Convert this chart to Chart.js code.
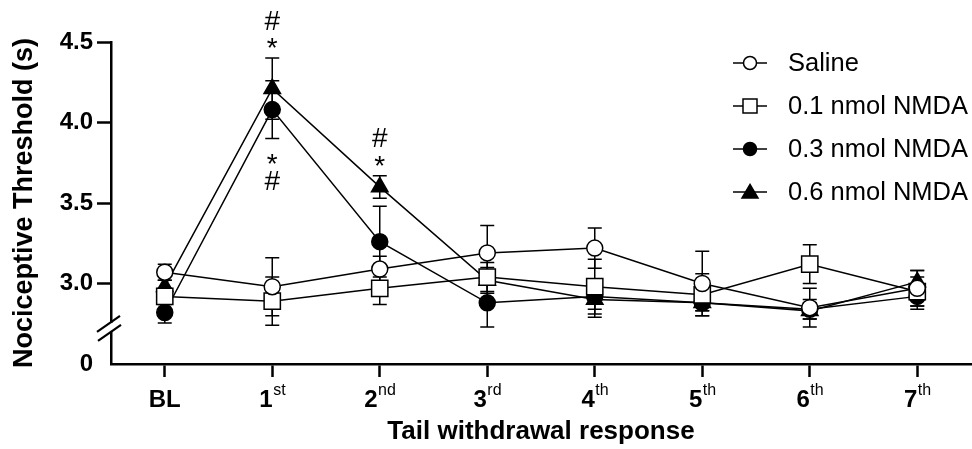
<!DOCTYPE html>
<html><head><meta charset="utf-8">
<script src="https://cdn.jsdelivr.net/npm/chart.js@4.4.1/dist/chart.umd.min.js"></script>
<style>html,body{margin:0;padding:0;background:#fff;}#wrap{width:972px;height:449px;}</style>
</head><body><div id="wrap"><canvas id="c" width="972" height="449"></canvas></div>
<script>
// ---- data ----
const categories = ['BL','1st','2nd','3rd','4th','5th','6th','7th'];
const tickBase = ['BL','1','2','3','4','5','6','7'];
const tickSup = ['','st','nd','rd','th','th','th','th'];
const seriesNames = ['Saline','0.1 nmol NMDA','0.3 nmol NMDA','0.6 nmol NMDA'];
const saline    = [3.07, 2.98, 3.09, 3.19, 3.22, 3.00, 2.85, 2.97];
const salineSem = [0.05, 0.18, 0.08, 0.17, 0.125, 0.20, 0.12, 0.11];
const nmda01    = [2.92, 2.89, 2.97, 3.04, 2.98, 2.93, 3.12, 2.95];
const nmda01Sem = [0.05, 0.15, 0.10, 0.09, 0.17, 0.13, 0.12, 0.09];
const nmda03    = [2.82, 4.08, 3.26, 2.88, 2.92, 2.88, 2.84, 2.92];
const nmda03Sem = [0.065, 0.18, 0.22, 0.15, 0.08, 0.05, 0.06, 0.08];
const nmda06    = [2.98, 4.21, 3.60, 3.02, 2.90, 2.88, 2.83, 3.01];
const nmda06Sem = [0.04, 0.19, 0.07, 0.08, 0.11, 0.05, 0.05, 0.07];
const yTicks = [2.5, 3.0, 3.5, 4.0, 4.5];          // 2.5 sits at the broken-axis origin
const yTickLabels = ['0', '3.0', '3.5', '4.0', '4.5'];
const axisBreakValue = 2.73;
const significance = [
  {index: 1, series: 3, side: 'above', text: ['*', '#']},
  {index: 1, series: 2, side: 'below', text: ['*', '#']},
  {index: 2, series: 3, side: 'above', text: ['*', '#']}
];
const semSets = [salineSem, nmda01Sem, nmda03Sem, nmda06Sem];

const FONT = '"Liberation Sans", Arial, Helvetica, sans-serif';

const styles = [
  {pointStyle: 'circle', r: 8, fill: '#ffffff'},
  {pointStyle: 'rect', r: 11.5, fill: '#ffffff'},
  {pointStyle: 'circle', r: 8, fill: '#000000'},
  {pointStyle: 'triangle', r: 9.5, fill: '#000000'}
];
const values = [saline, nmda01, nmda03, nmda06];

const datasets = values.map((v, i) => ({
  label: seriesNames[i],
  data: v,
  borderColor: '#000',
  borderWidth: 1.5,
  backgroundColor: styles[i].fill,
  pointStyle: styles[i].pointStyle,
  pointRadius: styles[i].r,
  pointBorderWidth: 1.5,
  pointBackgroundColor: styles[i].fill,
  pointBorderColor: '#000',
  tension: 0,
  fill: false,
  clip: false
}));

const errorBars = {
  id: 'errorBars',
  beforeDatasetsDraw(chart) {
    const ctx = chart.ctx, x = chart.scales.x, y = chart.scales.y;
    ctx.save();
    ctx.strokeStyle = '#000';
    ctx.lineWidth = 1.5;
    for (let s = values.length - 1; s >= 0; s--) {
      values[s].forEach((v, i) => {
        const px = x.getPixelForValue(i);
        const top = y.getPixelForValue(v + semSets[s][i]);
        const bot = y.getPixelForValue(v - semSets[s][i]);
        ctx.beginPath();
        ctx.moveTo(px, top); ctx.lineTo(px, bot);
        ctx.moveTo(px - 7, top); ctx.lineTo(px + 7, top);
        ctx.moveTo(px - 7, bot); ctx.lineTo(px + 7, bot);
        ctx.stroke();
      });
    }
    ctx.restore();
  }
};

function drawCentered(ctx, txt, cx, cy) {
  ctx.textBaseline = 'alphabetic';
  ctx.textAlign = 'center';
  const m = ctx.measureText(txt);
  ctx.fillText(txt, cx, cy + (m.actualBoundingBoxAscent - m.actualBoundingBoxDescent) / 2);
}

const decorations = {
  id: 'decorations',
  afterDraw(chart) {
    const ctx = chart.ctx, x = chart.scales.x, y = chart.scales.y;
    ctx.save();
    // axis break
    const by = y.getPixelForValue(axisBreakValue);
    const ax = y.right;
    ctx.fillStyle = '#fff';
    ctx.fillRect(ax - 3, by - 4, 6, 8);
    ctx.strokeStyle = '#000';
    ctx.lineWidth = 2.2;
    ctx.beginPath();
    ctx.moveTo(ax - 14, by + 5); ctx.lineTo(ax + 9, by - 11);
    ctx.moveTo(ax - 13, by + 14); ctx.lineTo(ax + 10, by - 2);
    ctx.stroke();

    // x tick labels with superscripts
    ctx.fillStyle = '#000';
    ctx.textAlign = 'left';
    ctx.textBaseline = 'alphabetic';
    const baseFont = 'bold 24px ' + FONT, supFont = '16px ' + FONT;
    tickBase.forEach((b, i) => {
      const px = x.getPixelForValue(i);
      ctx.font = baseFont; const wb = ctx.measureText(b).width;
      ctx.font = supFont; const ws = ctx.measureText(tickSup[i]).width;
      const start = px - (wb + ws) / 2;
      const baseY = y.bottom + 43;
      ctx.font = baseFont; ctx.fillText(b, start, baseY);
      ctx.font = supFont; ctx.fillText(tickSup[i], start + wb + 0.5, baseY - 12);
    });

    // significance marks
    ctx.font = '28px ' + FONT;
    significance.forEach(m => {
      const px = x.getPixelForValue(m.index);
      const v = values[m.series][m.index], e = semSets[m.series][m.index];
      if (m.side === 'above') {
        const t = y.getPixelForValue(v + e);
        drawCentered(ctx, m.text[0], px, t - 15);
        drawCentered(ctx, m.text[1], px, t - 38);
      } else {
        const b = y.getPixelForValue(v - e);
        drawCentered(ctx, m.text[0], px, b + 20);
        drawCentered(ctx, m.text[1], px, b + 42);
      }
    });

    // legend
    const lx = 750, ly0 = 63, dy = 43;
    seriesNames.forEach((name, i) => {
      const yy = ly0 + i * dy;
      ctx.strokeStyle = '#000';
      ctx.lineWidth = 1.5;
      ctx.beginPath(); ctx.moveTo(lx - 17, yy); ctx.lineTo(lx + 17, yy); ctx.stroke();
      ctx.fillStyle = styles[i].fill;
      ctx.beginPath();
      if (styles[i].pointStyle === 'circle') {
        ctx.arc(lx, yy, 6.5, 0, Math.PI * 2);
      } else if (styles[i].pointStyle === 'rect') {
        ctx.rect(lx - 7, yy - 7, 14, 14);
      } else {
        ctx.moveTo(lx, yy - 7.5); ctx.lineTo(lx + 8, yy + 6); ctx.lineTo(lx - 8, yy + 6); ctx.closePath();
      }
      ctx.fill(); ctx.stroke();
      ctx.fillStyle = '#000';
      ctx.font = '25.5px ' + FONT;
      ctx.textAlign = 'left';
      ctx.textBaseline = 'middle';
      ctx.fillText(name, 788, yy + 1);
    });
    ctx.restore();
  }
};

new Chart(document.getElementById('c'), {
  type: 'line',
  data: {labels: categories, datasets},
  plugins: [errorBars, decorations],
  options: {
    responsive: false,
    animation: false,
    devicePixelRatio: 1,
    layout: {autoPadding: false, padding: {top: 42, right: 1, left: 0, bottom: 0}},
    plugins: {legend: {display: false}, tooltip: {enabled: false}},
    scales: {
      x: {
        type: 'category',
        offset: true,
        grid: {display: true, drawOnChartArea: false, offset: false, drawTicks: true, tickLength: 13, tickWidth: 2.5, tickColor: '#000'},
        border: {display: true, color: '#000', width: 2.5},
        ticks: {display: false},
        title: {display: true, text: 'Tail withdrawal response', color: '#000', font: {family: FONT, size: 26, weight: 'bold'}, padding: {top: 0, bottom: 2}},
        afterFit(s) { s.height = 85; }
      },
      y: {
        type: 'linear',
        min: 2.5, max: 4.5,
        afterBuildTicks(s) { s.ticks = yTicks.map(v => ({value: v})); },
        ticks: {
          color: '#000', padding: 4,
          font: {family: FONT, size: 24, weight: 'bold'},
          callback: (v) => { const k = yTicks.indexOf(v); return k >= 0 ? yTickLabels[k] : ''; }
        },
        grid: {display: true, drawOnChartArea: false, drawTicks: true, tickLength: 14, tickWidth: 2.5,
               tickColor: (c) => (c.tick && c.tick.value === yTicks[0]) ? 'rgba(0,0,0,0)' : '#000'},
        border: {display: true, color: '#000', width: 2.5},
        title: {display: true, text: 'Nociceptive Threshold (s)', color: '#000', font: {family: FONT, size: 27, weight: 'bold'}, padding: {top: 8, bottom: 0}},
        afterFit(s) { s.width = 111; }
      }
    }
  }
});
</script></body></html>
